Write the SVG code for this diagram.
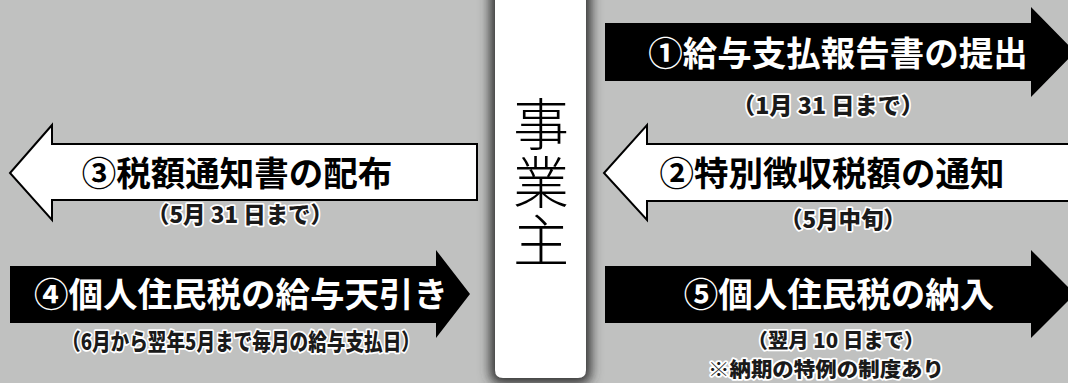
<svg xmlns="http://www.w3.org/2000/svg" width="1068" height="383" viewBox="0 0 1068 383">
<defs>
<style>
.bg{fill:#c0c1c0}
.blk{fill:#000}
.wht{fill:#fff;stroke:#000;stroke-width:2;stroke-linejoin:miter}
.main{font-family:"Noto Sans CJK JP","Noto Sans",sans-serif;font-weight:700;font-size:34.5px;text-anchor:middle}
.sub{font-family:"Noto Sans CJK JP","Noto Sans",sans-serif;font-weight:900;font-size:22.5px;text-anchor:middle;fill:#1a1a1a;stroke:#fff;stroke-width:3.5;paint-order:stroke;stroke-linejoin:round}
.sm{font-size:20px}
.boss{font-family:"Noto Sans CJK JP",sans-serif;font-weight:300;font-size:56px;fill:#000;writing-mode:vertical-rl;letter-spacing:2px}
</style>
<filter id="sh" x="-30%" y="-10%" width="160%" height="120%">
<feGaussianBlur stdDeviation="6"/>
</filter>
</defs>
<rect class="bg" x="0" y="0" width="1068" height="383"/>
<g id="employer">
<path d="M490,-20 H591 V372 Q591,384 579,384 H502 Q490,384 490,372 Z" fill="#333" filter="url(#sh)"/>
<path d="M495,-10 H586 V370 Q586,378 578,378 H503 Q495,378 495,370 Z" fill="#fff"/>
<text class="boss" x="541" y="96">事業主</text>
</g>
<g id="connectors">
<g id="arrow1">
<path class="blk" d="M605,23 H1031 V7 L1075,52 L1031,97 V81 H605 Z"/>
<text class="main" x="838" y="66" fill="#fff">①給与支払報告書の提出</text>
<text class="sub" x="828" y="114" textLength="192" lengthAdjust="spacingAndGlyphs">（1月 31 日まで）</text>
</g>
<g id="arrow2">
<path class="wht" d="M1075,144 H647 V125 L604,173 L647,220 V201 H1075 Z"/>
<text class="main" x="832" y="186" fill="#000">②特別徴収税額の通知</text>
<text class="sub" x="843" y="228" textLength="126" lengthAdjust="spacingAndGlyphs">（5月中旬）</text>
</g>
<g id="arrow3">
<path class="wht" d="M477,144 H52 V125 L10,173 L52,220 V200 H477 Z"/>
<text class="main" x="237" y="186" fill="#000">③税額通知書の配布</text>
<text class="sub" x="240" y="223" textLength="186" lengthAdjust="spacingAndGlyphs">（5月 31 日まで）</text>
</g>
<g id="arrow4">
<path class="blk" d="M10,266 H436 V250 L470,294 L436,338 V323 H10 Z"/>
<text class="main" x="241" y="307" fill="#fff">④個人住民税の給与天引き</text>
<text class="sub" x="241" y="350" textLength="358" lengthAdjust="spacingAndGlyphs">（6月から翌年5月まで毎月の給与支払日）</text>
</g>
<g id="arrow5">
<path class="blk" d="M605,266 H1031 V250 L1075,294 L1031,338 V323 H605 Z"/>
<text class="main" x="839" y="307" fill="#fff">⑤個人住民税の納入</text>
<text class="sub sm" x="836" y="348" textLength="177" lengthAdjust="spacingAndGlyphs">（翌月 10 日まで）</text>
<text class="sub sm" x="826" y="377" textLength="236" lengthAdjust="spacingAndGlyphs">※納期の特例の制度あり</text>
</g>
</g>
</svg>
